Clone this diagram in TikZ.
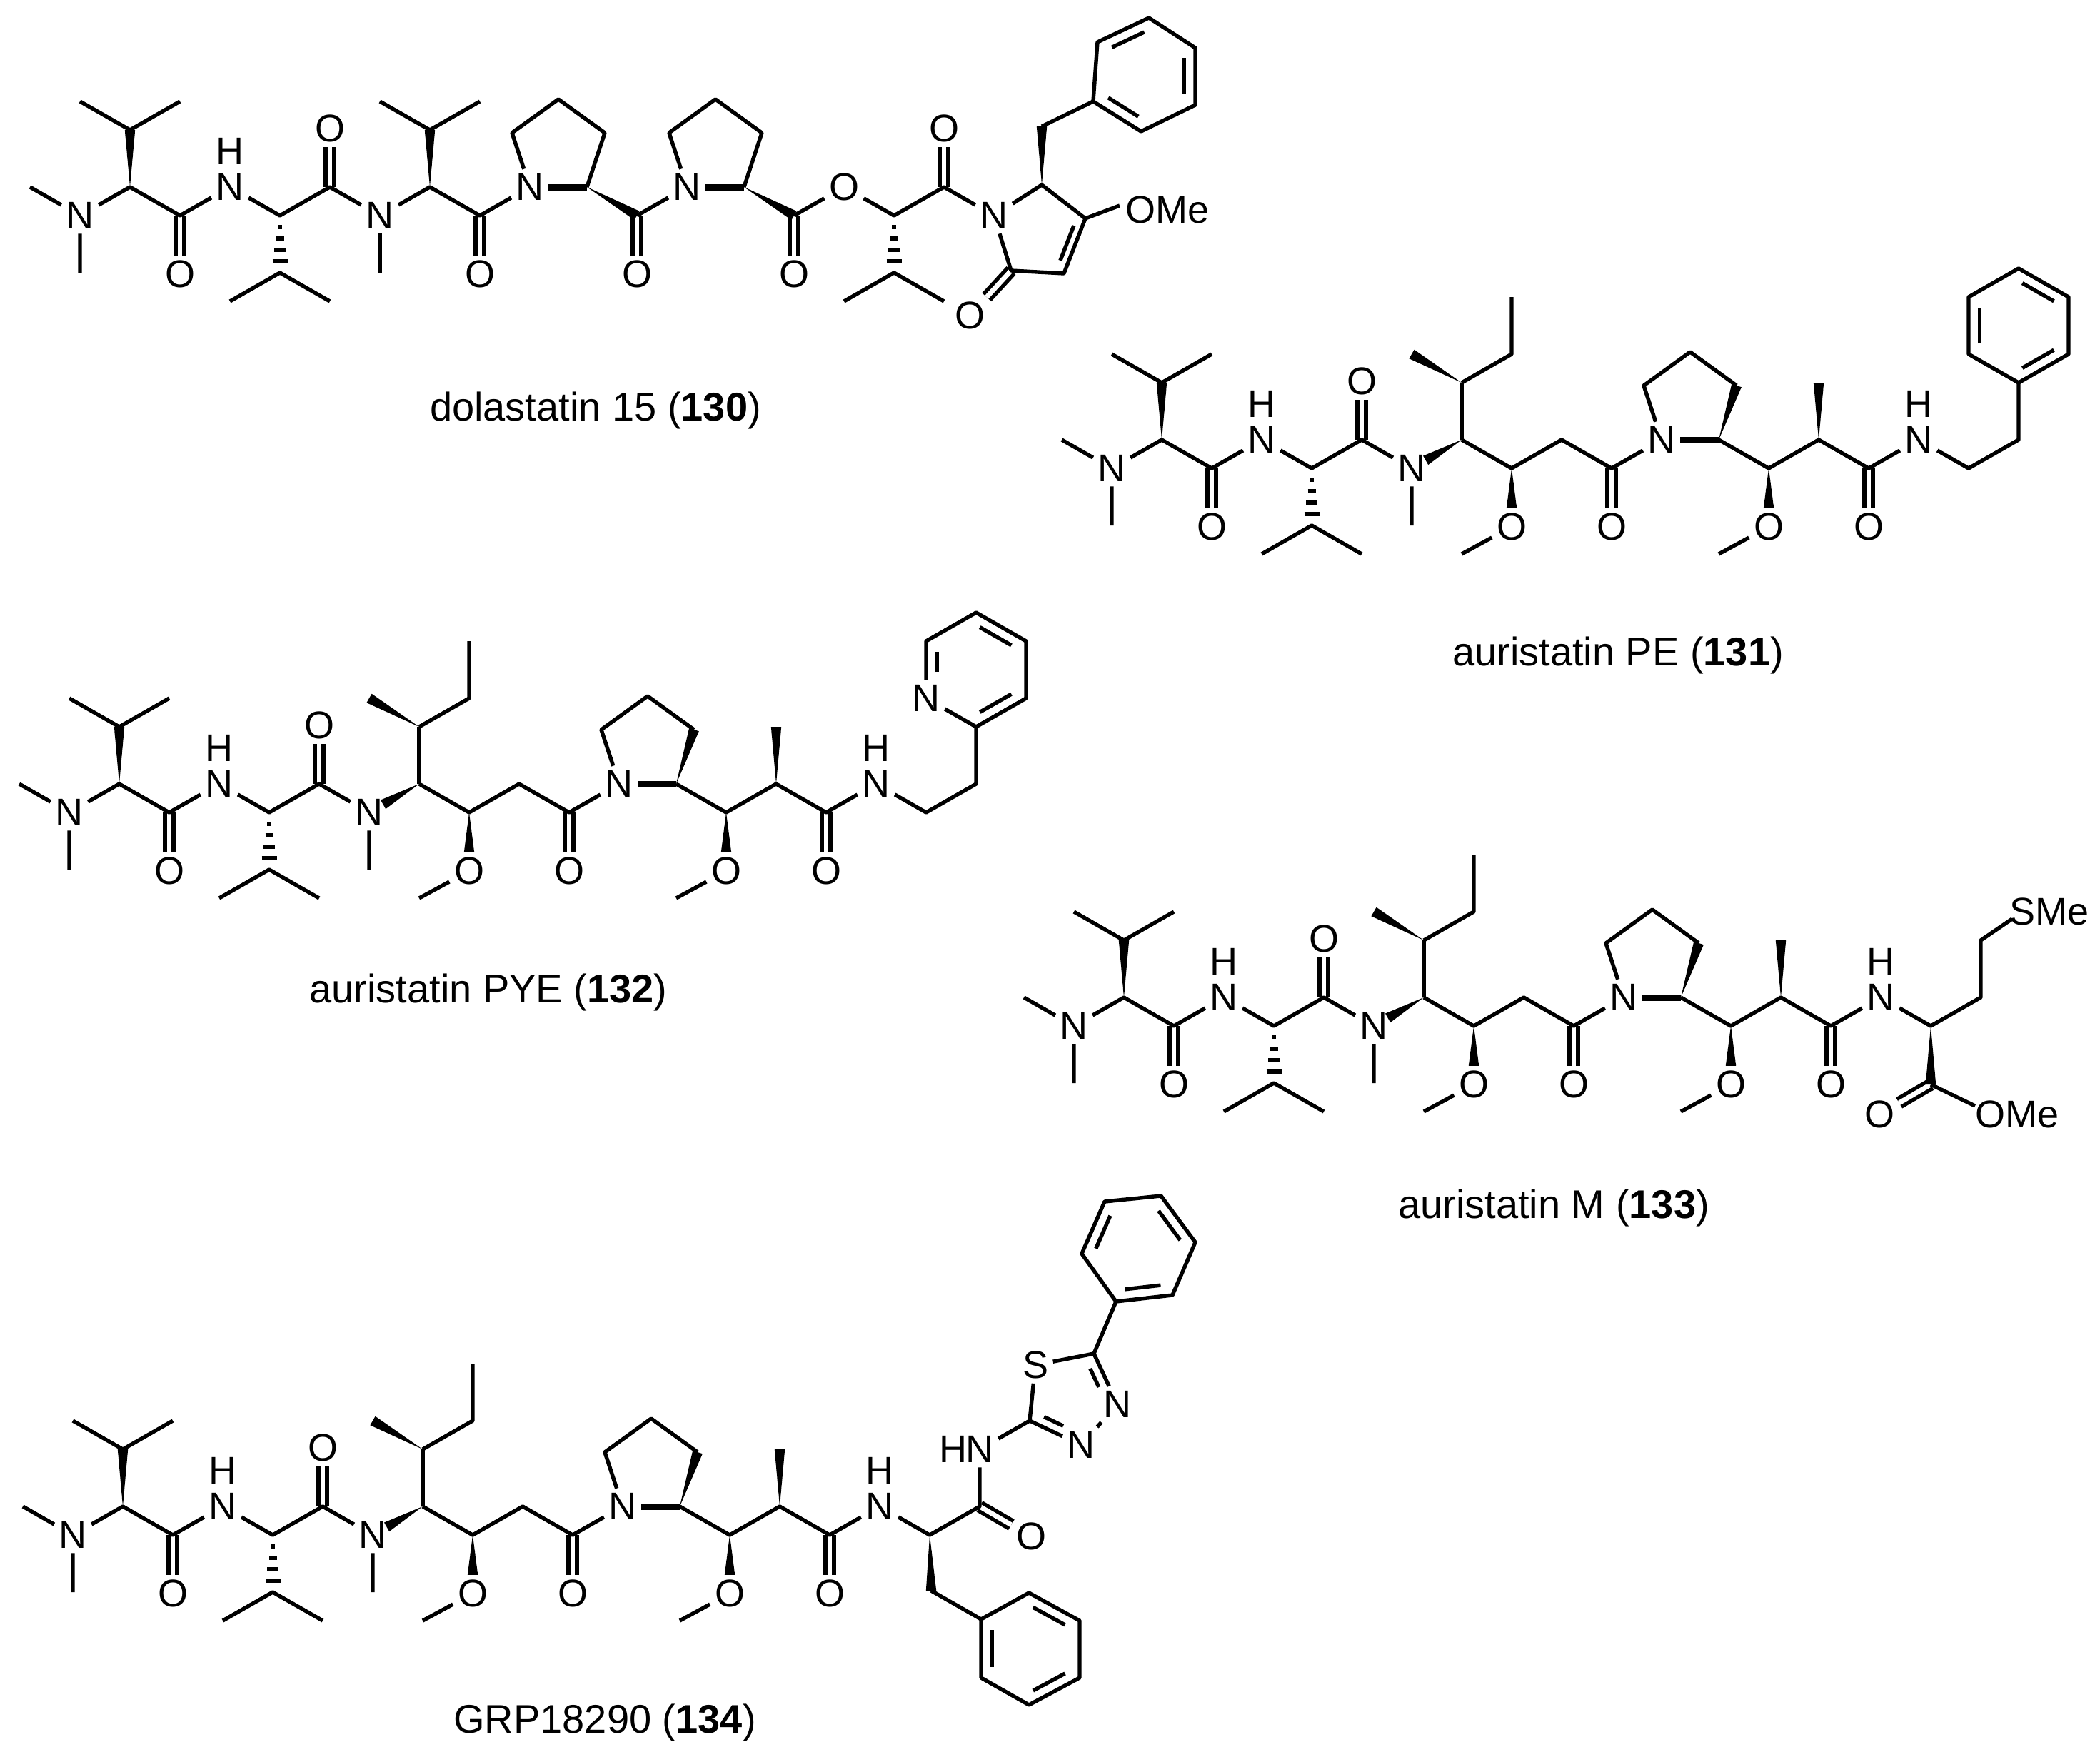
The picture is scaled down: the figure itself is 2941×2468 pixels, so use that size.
\documentclass[tikz,border=0pt]{standalone}
\usepackage{fontspec}
\setmainfont{Liberation Sans}
\usetikzlibrary{calc}
\tikzset{
 atom/.style={inner sep=2pt, font=\fontsize{27}{32}\selectfont},
 molname/.style={inner sep=0pt, font=\fontsize{28}{33}\selectfont},
 dbl/.style={double, double distance=3.4pt},
 boldb/.style={line width=4.5pt},
}
\newcommand\wdg[2]{\fill (#1) -- ($(#2)!3.6pt!90:(#1)$) -- ($(#2)!3.6pt!-90:(#1)$) -- cycle;}
\newcommand\hsh[2]{\foreach \myt/\myw in {0.2/3,0.4/5.5,0.6/8,0.8/10.5}{\draw ($(#1)!\myt!(#2)$) ++(-\myw,0) -- ++(2*\myw,0);}}
\newcommand\inl[3]{\draw[shorten <=3pt, shorten >=3pt] ($(#1)!0.22!(#3)$) -- ($(#2)!0.22!(#3)$);}
% common auristatin core
\newcommand\corechain{%
 \node[atom] (N1) at (0,0) {N};
 \coordinate (M1a) at (-70,-40); \coordinate (M1b) at (0,80);
 \coordinate (A1) at (70,-40); \coordinate (B1) at (70,-120);
 \coordinate (B1a) at (0,-160); \coordinate (B1b) at (140,-160);
 \coordinate (C1) at (140,0); \node[atom] (O1) at (140,82) {O};
 \node[atom] (N2) at (210,-40) {N}; \node[atom] (H2) at (210,-90) {H};
 \coordinate (A2) at (280,0); \coordinate (B2) at (280,80);
 \coordinate (B2a) at (210,120); \coordinate (B2b) at (350,120);
 \coordinate (C2) at (350,-40); \node[atom] (O2) at (350,-122) {O};
 \node[atom] (N3) at (420,0) {N}; \coordinate (M3) at (420,80);
 \coordinate (A3) at (490,-40); \coordinate (W3) at ($(A3)!0.72!(N3)$);
 \coordinate (B3) at (490,-120); \coordinate (B3a) at (420,-160);
 \coordinate (B3b) at (560,-160); \coordinate (B3c) at (560,-240);
 \coordinate (A4) at (560,0); \node[atom] (O4) at (560,82) {O};
 \coordinate (W4) at ($(A4)!0.68!(O4)$); \coordinate (M4) at (490,120);
 \coordinate (A5) at (630,-40);
 \coordinate (C6) at (700,0); \node[atom] (O6) at (700,82) {O};
 \node[atom] (N7) at (770,-40) {N};
 \coordinate (R5) at (745,-116); \coordinate (R4) at (810,-163);
 \coordinate (R3) at (875,-116); \coordinate (R2) at (850,-40);
 \coordinate (A8) at (920,0); \node[atom] (O8) at (920,82) {O};
 \coordinate (W8) at ($(A8)!0.68!(O8)$); \coordinate (M8) at (850,120);
 \coordinate (A9) at (990,-40); \coordinate (M9) at (990,-120);
 \coordinate (C10) at (1060,0); \node[atom] (O10) at (1060,82) {O};
 \node[atom] (N11) at (1130,-40) {N}; \node[atom] (H11) at (1130,-90) {H};
 \draw[dbl] (C1) -- (O1); \draw[dbl] (C2) -- (O2);
 \draw[dbl] (C6) -- (O6); \draw[dbl] (C10) -- (O10);
 \draw (M1a) -- (N1) -- (M1b);
 \draw (N1) -- (A1) -- (C1) -- (N2) -- (A2) -- (C2) -- (N3) -- (M3);
 \wdg{A1}{B1} \draw (B1a) -- (B1) -- (B1b);
 \hsh{A2}{B2} \draw (B2a) -- (B2) -- (B2b);
 \wdg{A3}{W3}
 \draw (A3) -- (B3); \wdg{B3}{B3a} \draw (B3) -- (B3b) -- (B3c);
 \draw (A3) -- (A4) -- (A5) -- (C6) -- (N7);
 \wdg{A4}{W4} \draw (O4) -- (M4);
 \draw (N7) -- (R5) -- (R4) -- (R3); \wdg{R2}{R3} \draw[boldb] (N7) -- (R2);
 \draw (R2) -- (A8) -- (A9) -- (C10) -- (N11);
 \wdg{A8}{W8} \draw (O8) -- (M8); \wdg{A9}{M9}
}
\begin{document}
\begin{tikzpicture}[x=0.5pt,y=-0.5pt,line width=2.7pt,line join=round]
\path[fill=white, use as bounding box] (0,0) rectangle (2941,2468);

% ---------------- dolastatin 15 (130)
\begin{scope}[shift={(112,302)}, name prefix=a-]
 \node[atom] (N1) at (0,0) {N};
 \coordinate (M1a) at (-70,-40); \coordinate (M1b) at (0,80);
 \coordinate (A1) at (70,-40); \coordinate (B1) at (70,-120);
 \coordinate (B1a) at (0,-160); \coordinate (B1b) at (140,-160);
 \coordinate (C1) at (140,0); \node[atom] (O1) at (140,82) {O};
 \node[atom] (N2) at (210,-40) {N}; \node[atom] (H2) at (210,-90) {H};
 \coordinate (A2) at (280,0); \coordinate (B2) at (280,80);
 \coordinate (B2a) at (210,120); \coordinate (B2b) at (350,120);
 \coordinate (C2) at (350,-40); \node[atom] (O2) at (350,-122) {O};
 \node[atom] (N3) at (420,0) {N}; \coordinate (M3) at (420,80);
 \coordinate (A3) at (490,-40); \coordinate (B3) at (490,-120);
 \coordinate (B3a) at (420,-160); \coordinate (B3b) at (560,-160);
 \coordinate (C3) at (560,0); \node[atom] (O3) at (560,82) {O};
 \node[atom] (P1N) at (630,-40) {N};
 \coordinate (Ra5) at (605,-116); \coordinate (Ra4) at (670,-163);
 \coordinate (Ra3) at (735,-116); \coordinate (Ra2) at (710,-40);
 \coordinate (C4) at (780,0); \node[atom] (O4) at (780,82) {O};
 \node[atom] (P2N) at (850,-40) {N};
 \coordinate (Rb5) at (825,-116); \coordinate (Rb4) at (890,-163);
 \coordinate (Rb3) at (955,-116); \coordinate (Rb2) at (930,-40);
 \coordinate (C5) at (1000,0); \node[atom] (O5) at (1000,82) {O};
 \node[atom] (Oe) at (1070,-40) {O};
 \coordinate (A6) at (1140,0); \coordinate (B6) at (1140,80);
 \coordinate (B6a) at (1070,120); \coordinate (B6b) at (1210,120);
 \coordinate (C6) at (1210,-40); \node[atom] (O6) at (1210,-122) {O};
 \node[atom] (Nr) at (1280,0) {N};
 \coordinate (K5) at (1347,-43); \coordinate (K4) at (1408,4);
 \coordinate (K3) at (1378,81); \coordinate (K2) at (1304,77);
 \coordinate (Kc) at (1345,24);
 \node[atom] (Ok) at (1246,140) {O};
 \node[atom, anchor=west] (OMe) at (1458,-8) {OMe};
 \coordinate (OMeE) at (1456,-14);
 \coordinate (Bz) at (1347,-125);
 \coordinate (F1) at (1419,-160); \coordinate (F2) at (1486,-118);
 \coordinate (F3) at (1562,-155); \coordinate (F4) at (1562,-235);
 \coordinate (F5) at (1497,-277); \coordinate (F6) at (1425,-243);
 \coordinate (Fc) at (1492,-198);
 \draw[dbl] (C1) -- (O1); \draw[dbl] (C2) -- (O2); \draw[dbl] (C3) -- (O3);
 \draw[dbl] (C4) -- (O4); \draw[dbl] (C5) -- (O5); \draw[dbl] (C6) -- (O6);
 \draw[dbl] (K2) -- (Ok);
 \draw (M1a) -- (N1) -- (M1b);
 \draw (N1) -- (A1) -- (C1) -- (N2) -- (A2) -- (C2) -- (N3) -- (A3) -- (C3) -- (P1N);
 \draw (N3) -- (M3);
 \wdg{A1}{B1} \draw (B1a) -- (B1) -- (B1b);
 \hsh{A2}{B2} \draw (B2a) -- (B2) -- (B2b);
 \wdg{A3}{B3} \draw (B3a) -- (B3) -- (B3b);
 \draw (P1N) -- (Ra5) -- (Ra4) -- (Ra3) -- (Ra2); \draw[boldb] (P1N) -- (Ra2);
 \wdg{Ra2}{C4} \draw (C4) -- (P2N);
 \draw (P2N) -- (Rb5) -- (Rb4) -- (Rb3) -- (Rb2); \draw[boldb] (P2N) -- (Rb2);
 \wdg{Rb2}{C5}
 \draw (C5) -- (Oe) -- (A6) -- (C6) -- (Nr);
 \hsh{A6}{B6} \draw (B6a) -- (B6) -- (B6b);
 \draw (Nr) -- (K5) -- (K4) -- (K3) -- (K2) -- (Nr);
 \inl{K4}{K3}{Kc}
 \draw (K4) -- (OMeE);
 \wdg{K5}{Bz}
 \draw (Bz) -- (F1);
 \draw (F1) -- (F2) -- (F3) -- (F4) -- (F5) -- (F6) -- cycle;
 \inl{F1}{F2}{Fc} \inl{F3}{F4}{Fc} \inl{F5}{F6}{Fc}
\end{scope}
\node[molname] (L130) at (834,575) {dolastatin 15 (\textbf{130})};

% ---------------- auristatin PE (131)
\begin{scope}[shift={(1557,656)}, name prefix=b-]
 \corechain
 \coordinate (T1) at (1200,0); \coordinate (T2) at (1270,-40);
 \coordinate (P1) at (1270,-120); \coordinate (P2) at (1200,-160);
 \coordinate (P3) at (1200,-240); \coordinate (P4) at (1270,-280);
 \coordinate (P5) at (1340,-240); \coordinate (P6) at (1340,-160);
 \coordinate (Pc) at (1270,-200);
 \draw (N11) -- (T1) -- (T2) -- (P1);
 \draw (P1) -- (P2) -- (P3) -- (P4) -- (P5) -- (P6) -- cycle;
 \inl{P2}{P3}{Pc} \inl{P4}{P5}{Pc} \inl{P6}{P1}{Pc}
\end{scope}
\node[molname] (L131) at (2266,918) {auristatin PE (\textbf{131})};

% ---------------- auristatin PYE (132)
\begin{scope}[shift={(97,1138)}, name prefix=c-]
 \corechain
 \coordinate (T1) at (1200,0); \coordinate (T2) at (1270,-40);
 \coordinate (P1) at (1270,-120); \node[atom] (P2) at (1200,-160) {N};
 \coordinate (P3) at (1200,-240); \coordinate (P4) at (1270,-280);
 \coordinate (P5) at (1340,-240); \coordinate (P6) at (1340,-160);
 \coordinate (Pc) at (1270,-200);
 \coordinate (P2i) at ($(1200,-160)!0.22!(Pc)$);
 \draw (N11) -- (T1) -- (T2) -- (P1);
 \draw (P1) -- (P2) -- (P3) -- (P4) -- (P5) -- (P6) -- (P1);
 \draw[shorten <=14pt, shorten >=3pt] (P2i) -- ($(P3)!0.22!(Pc)$);
 \inl{P4}{P5}{Pc} \inl{P6}{P1}{Pc}
\end{scope}
\node[molname] (L132) at (684,1390) {auristatin PYE (\textbf{132})};

% ---------------- auristatin M (133)
\begin{scope}[shift={(1504,1437)}, name prefix=d-]
 \corechain
 \coordinate (Q1) at (1200,0); \coordinate (Q2) at (1200,82);
 \node[atom] (Qo) at (1128,124) {O};
 \node[atom, anchor=west] (QOMe) at (1256,124) {OMe};
 \coordinate (QOE) at (1262,112);
 \coordinate (Q3) at (1270,-40); \coordinate (Q4) at (1270,-120);
 \node[atom, anchor=west] (SMe) at (1304,-160) {SMe};
 \coordinate (SE) at (1314,-150);
 \draw[dbl] (Q2) -- (Qo);
 \draw (N11) -- (Q1) -- (Q3) -- (Q4) -- (SE);
 \wdg{Q1}{Q2}
 \draw (Q2) -- (QOE);
\end{scope}
\node[molname] (L133) at (2176,1692) {auristatin M (\textbf{133})};

% ---------------- GRP18290 (134)
\begin{scope}[shift={(102,2150)}, name prefix=e-]
 \corechain
 \coordinate (Z1) at (1200,0); \coordinate (Z2) at (1202,78);
 \coordinate (Z3) at (1270,-40); \node[atom] (Oz) at (1342,2) {O};
 \node[atom] (Nz) at (1270,-120) {N}; \node[atom] (Hz) at (1233,-120) {H};
 \coordinate (G1) at (1272,118); \coordinate (G2) at (1339,81);
 \coordinate (G3) at (1410,120); \coordinate (G4) at (1410,200);
 \coordinate (G5) at (1339,238); \coordinate (G6) at (1272,200);
 \coordinate (Gc) at (1341,160);
 \coordinate (TC2) at (1340,-160); \node[atom] (S) at (1348,-238) {S};
 \coordinate (TC5) at (1430,-254); \node[atom] (N4) at (1463,-183) {N};
 \node[atom] (N3t) at (1412,-126) {N};
 \coordinate (Tc) at (1399,-192);
 \coordinate (J1) at (1461,-327); \coordinate (J2) at (1413,-394);
 \coordinate (J3) at (1445,-467); \coordinate (J4) at (1524,-475);
 \coordinate (J5) at (1572,-410); \coordinate (J6) at (1540,-336);
 \coordinate (Jc) at (1492,-402);
 \draw[dbl] (Z3) -- (Oz);
 \draw (N11) -- (Z1) -- (Z3) -- (Nz) -- (TC2) -- (S) -- (TC5) -- (N4) -- (N3t) -- (TC2);
 \wdg{Z1}{Z2}
 \draw (Z2) -- (G1);
 \draw (G1) -- (G2) -- (G3) -- (G4) -- (G5) -- (G6) -- cycle;
 \inl{G6}{G1}{Gc} \inl{G2}{G3}{Gc} \inl{G4}{G5}{Gc}
 \draw[shorten <=3pt, shorten >=12pt] ($(TC5)!0.25!(Tc)$) -- ($(1463,-183)!0.25!(Tc)$);
 \draw[shorten <=3pt, shorten >=12pt] ($(TC2)!0.25!(Tc)$) -- ($(1412,-126)!0.25!(Tc)$);
 \draw (TC5) -- (J1);
 \draw (J1) -- (J2) -- (J3) -- (J4) -- (J5) -- (J6) -- cycle;
 \inl{J2}{J3}{Jc} \inl{J4}{J5}{Jc} \inl{J6}{J1}{Jc}
\end{scope}
\node[molname] (L134) at (847,2413) {GRP18290 (\textbf{134})};
\end{tikzpicture}
\end{document}
